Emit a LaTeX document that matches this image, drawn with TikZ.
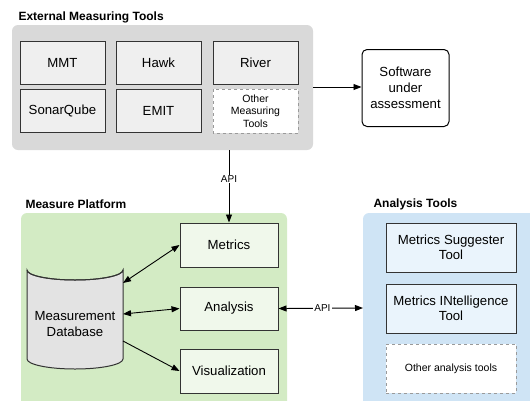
\documentclass[tikz,border=0pt]{standalone}
\usepackage{fontspec}
\setmainfont{Liberation Sans}
\usetikzlibrary{shapes.geometric,arrows.meta}
\definecolor{grayc}{HTML}{D9D9D9}
\definecolor{grayb}{HTML}{EFEFEF}
\definecolor{dbfill}{HTML}{E3E3E3}
\definecolor{greenc}{HTML}{D3EBC4}
\definecolor{greenb}{HTML}{F0F8EB}
\definecolor{bluec}{HTML}{CFE4F5}
\definecolor{blueb}{HTML}{EAF4FC}
\definecolor{edge}{HTML}{333333}
\definecolor{dashc}{HTML}{9A9A9A}
\tikzset{
  txt/.style={font=\fontsize{13.2}{15}\selectfont},
  tbox/.style={draw=edge,line width=1pt,fill=grayb},
  gbox/.style={draw=edge,line width=1pt,fill=greenb,font=\fontsize{13.2}{15}\selectfont},
  bbox/.style={draw=edge,line width=1pt,fill=blueb,font=\fontsize{13.2}{15}\selectfont,align=center},
  dbox/.style={draw=dashc,dashed,line width=0.8pt,fill=white,align=center},
  title/.style={font=\bfseries\fontsize{12}{14}\selectfont,anchor=west},
  conn/.style={line width=0.9pt,-{Triangle[length=8pt,width=6pt]}},
  bconn/.style={line width=0.9pt,{Triangle[length=8pt,width=6pt]}-{Triangle[length=8pt,width=6pt]}},
  lbl/.style={font=\fontsize{10}{12}\selectfont,fill=white,inner sep=1pt},
}
\begin{document}
\begin{tikzpicture}[x=1pt,y=-1pt]
\useasboundingbox (0,0) rectangle (530,400);
% containers
\fill[grayc,rounded corners=6pt] (12,25) rectangle (313,150);
\fill[greenc,rounded corners=6pt] (21,213) rectangle (287,410);
\fill[bluec,rounded corners=6pt] (363,213) rectangle (540,410);
\node[title] (t1) at (15,17) {External Measuring Tools};
\node[title] (t2) at (22,204) {Measure Platform};
\node[title] (t3) at (370,204) {Analysis Tools};
\coordinate (ext) at (313,87);
\coordinate (extb) at (229,150);
\coordinate (anl) at (363,308);
% tools
\path[tbox] (20,41) rectangle (105,84);  \node[txt] (mmt) at (62.5,62.5) {MMT};
\path[tbox] (116,41) rectangle (201,84); \node[txt] (hawk) at (158.5,62.5) {Hawk};
\path[tbox] (213,41) rectangle (298,84); \node[txt] (river) at (255.5,62.5) {River};
\path[tbox] (20,89) rectangle (105,132); \node[txt] (sonar) at (62.5,110.5) {SonarQube};
\path[tbox] (116,89) rectangle (201,132); \node[txt] (emit) at (158.5,110.5) {EMIT};
\path[dbox] (213,89) rectangle (298,133);
\node[align=center,font=\fontsize{10.5}{12.5}\selectfont] (other) at (255.5,111) {Other\\Measuring\\Tools};
% software
\node[draw=black,line width=1pt,rounded corners=5pt,minimum width=87pt,minimum height=77pt,align=center,font=\fontsize{13.2}{16}\selectfont] (sw) at (405.5,88) {Software\\under\\assessment};
% measure platform
\node[gbox,minimum width=98pt,minimum height=44pt] (metrics) at (229,245) {Metrics};
\node[gbox,minimum width=98pt,minimum height=43pt] (analysis) at (229,308.5) {Analysis};
\node[gbox,minimum width=98pt,minimum height=44pt] (vis) at (229,371) {Visualization};
% database cylinder
\path[draw=edge,line width=1pt,fill=dbfill] (27,270) -- (27,359) arc[start angle=180,end angle=0,x radius=48,y radius=10] -- (123,270) arc[start angle=0,end angle=180,x radius=48,y radius=10] -- cycle;
\draw[edge,line width=1pt] (27,270) arc[start angle=180,end angle=0,x radius=48,y radius=10];
\node[align=center,font=\fontsize{13.2}{16}\selectfont] (db) at (75,324) {Measurement\\Database};
\coordinate (db1) at (123,283);
\coordinate (db2) at (123,314);
\coordinate (db3) at (123,341);
% analysis tools
\node[bbox,minimum width=130pt,minimum height=49pt] (sugg) at (451,247.5) {Metrics Suggester\\Tool};
\node[bbox,minimum width=130pt,minimum height=49pt] (intel) at (451,308.5) {Metrics INtelligence\\Tool};
\node[dbox,minimum width=130pt,minimum height=49pt,font=\fontsize{10.5}{12.5}\selectfont] (oat) at (451,368.5) {Other analysis tools};
% connectors
\draw[conn] (ext) -- (sw.west |- ext);
\draw[conn] (extb) -- node[lbl,pos=0.4] {API} (metrics.north);
\draw[bconn] (analysis.east) -- node[lbl,pos=0.52] {API} (anl);
\draw[bconn] (db1) -- (metrics.west);
\draw[bconn] (db2) -- (analysis.west);
\draw[conn] (db3) -- (vis.west);
\end{tikzpicture}
\end{document}
